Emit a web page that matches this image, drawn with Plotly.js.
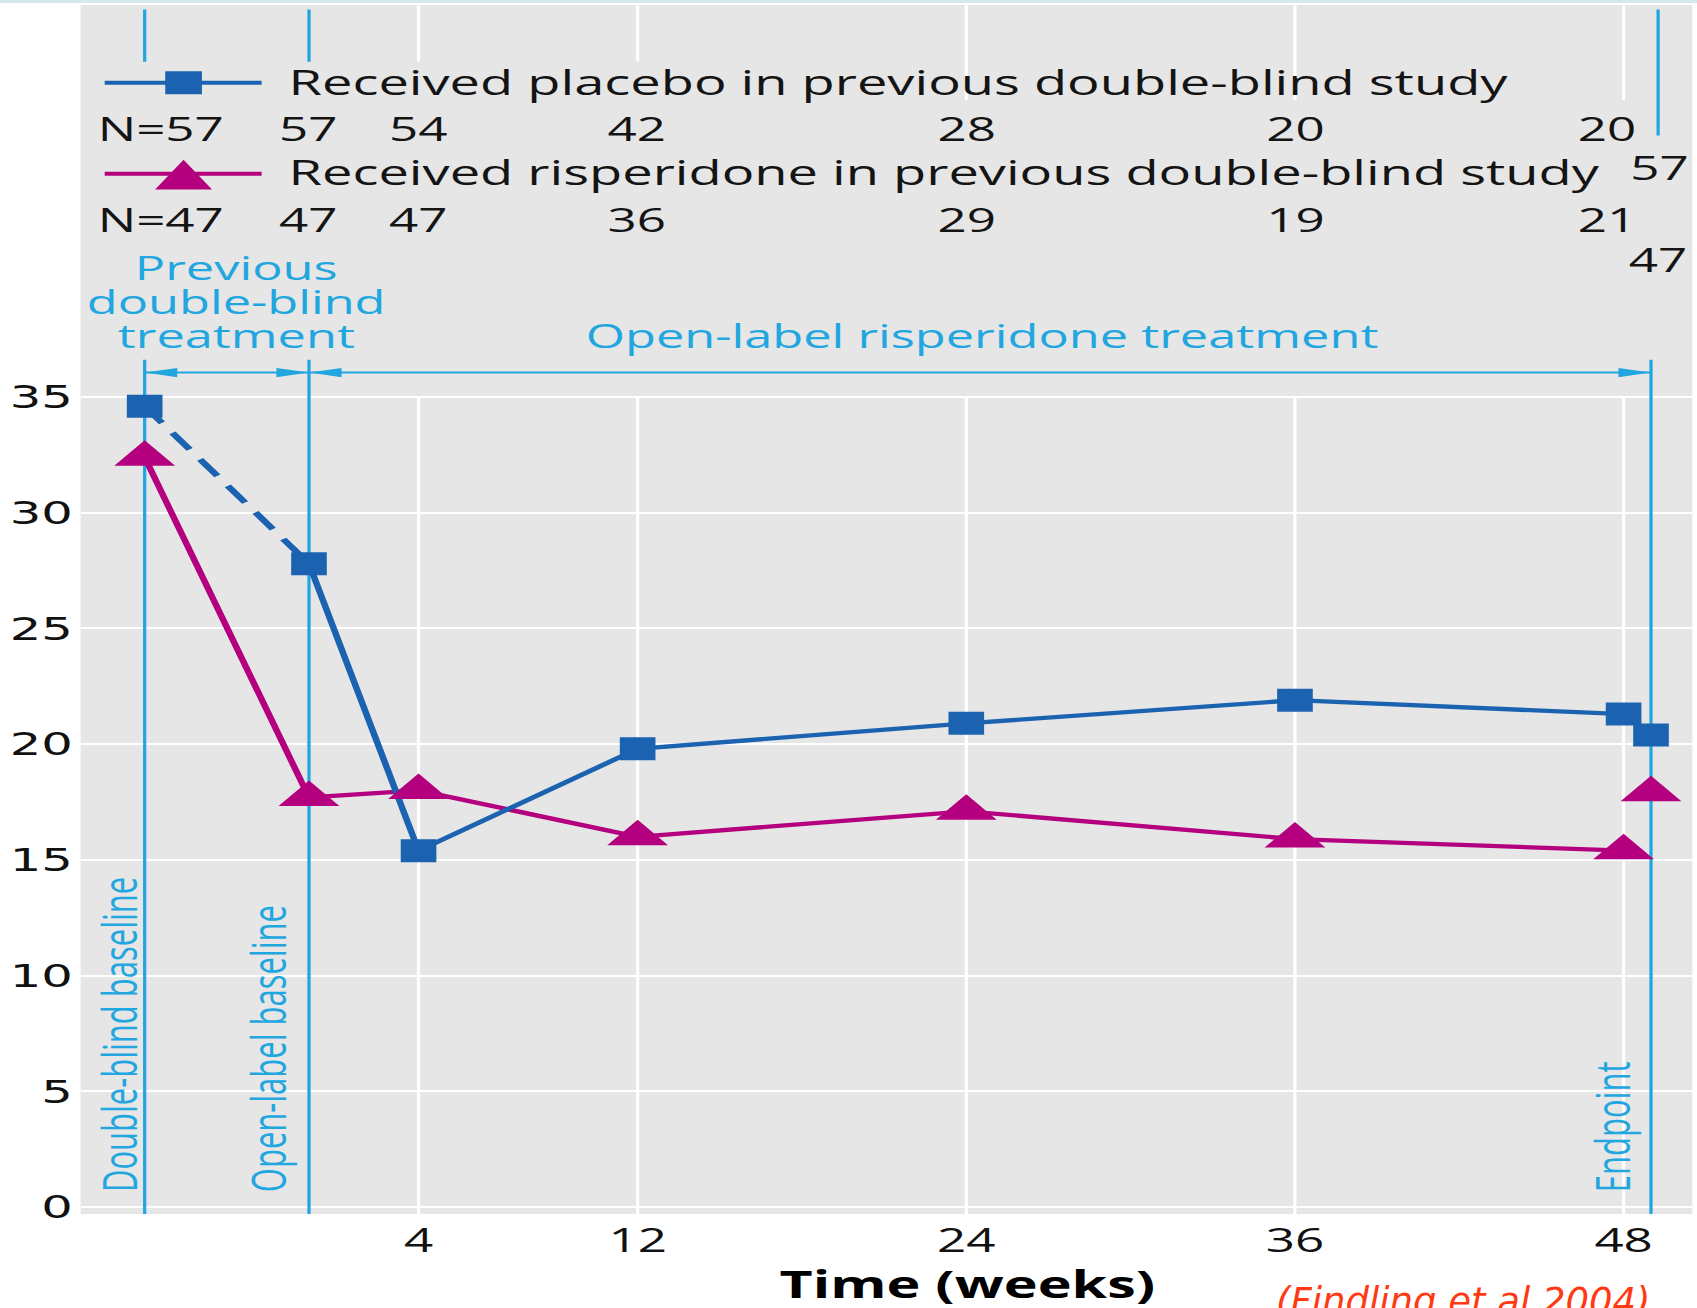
<!DOCTYPE html>
<html><head><meta charset="utf-8">
<script src="https://cdn.plot.ly/plotly-3.0.1.min.js"></script>
<style>
html,body{margin:0;padding:0;background:#fff;overflow:hidden;width:1697px;height:1308px;}
#topband{position:absolute;left:0;top:0;width:1697px;height:3px;background:#d3e9ed;}
#wrap{position:absolute;left:0;top:0;width:1095px;height:1308px;transform-origin:0 0;transform:scaleX(1.549772);}
#cite{position:absolute;left:1276px;top:1283px;font-family:'DejaVu Sans';font-style:italic;font-size:37px;line-height:1;color:#ff3a12;white-space:nowrap;}
</style></head>
<body>
<div id="wrap"><div id="chart"></div></div>
<div id="topband"></div>
<div id="cite">(Findling et al 2004)</div>
<script>
// ---- data ----
const weeks = [-6, 0, 4, 12, 24, 36, 48];
const endpointWeek = 49;
const placeboMean = [34.6, 27.8, 15.4, 19.8, 20.9, 21.9, 21.3];
const placeboEndpoint = 20.4;
const risperidoneMean = [32.4, 17.7, 18.0, 16.0, 17.1, 15.9, 15.4];
const risperidoneEndpoint = 17.9;
const placeboN = [57, 57, 54, 42, 28, 20, 20];
const placeboEndpointN = 57;
const risperidoneN = [47, 47, 47, 36, 29, 19, 21];
const risperidoneEndpointN = 47;
const xTickVals = [4, 12, 24, 36, 48];
const xTickText = ['4', '12', '24', '36', '48'];
const yTickVals = [0, 5, 10, 15, 20, 25, 30, 35];
const yTickText = ['0', '5', '10', '15', '20', '25', '30', '35'];
const seriesNames = ['Received placebo in previous double-blind study',
                     'Received risperidone in previous double-blind study'];
const phaseWeeks = [-6, 0, 49];
const phaseLineLabels = ['Double-blind baseline', 'Open-label baseline', 'Endpoint'];
const previousLabel = ['Previous', 'double-blind', 'treatment'];
const openLabel = 'Open-label risperidone treatment';
const xTitle = 'Time (weeks)';

// ---- style ----
const BLUE = '#1b63b0', MAGENTA = '#b4007e', LIGHT = '#22a6e0', BG = '#e6e6e6', TXT = '#141414';
const Y_TOP = 51.94, Y_BOT = -0.3;
const ARROW_Y = 36.06, PHASE_TOP = 36.61;
const WK = 27.39 / 1.549772; // pre-transform px per week

const traces = [
  {x: weeks, y: risperidoneMean, mode: 'lines', line: {color: MAGENTA, width: 4.3}, hoverinfo: 'skip'},
  {x: weeks.slice(0, 2), y: placeboMean.slice(0, 2), mode: 'lines', line: {color: BLUE, width: 4.8, dash: '20px,12px'}, hoverinfo: 'skip'},
  {x: weeks.slice(1), y: placeboMean.slice(1), mode: 'lines', line: {color: BLUE, width: 4.3}, hoverinfo: 'skip'},
  {x: weeks.concat([endpointWeek]), y: risperidoneMean.concat([risperidoneEndpoint]), mode: 'markers',
   marker: {symbol: 'triangle-up', size: 34, color: MAGENTA, line: {width: 0}}, hoverinfo: 'skip'},
  {x: weeks.concat([endpointWeek]), y: placeboMean.concat([placeboEndpoint]), mode: 'markers',
   marker: {symbol: 'square', size: 23, color: BLUE, line: {width: 0}}, hoverinfo: 'skip'}
];

const shapes = [];
const gridTopEnds = [49.5, 49.5, 47.84, 47.84, 47.84];
xTickVals.forEach((v, i) => {
  shapes.push({type: 'line', layer: 'below', xref: 'x', yref: 'y', x0: v, x1: v, y0: Y_BOT, y1: 35, line: {color: '#fff', width: 2}});
  shapes.push({type: 'line', layer: 'below', xref: 'x', yref: 'y', x0: v, x1: v, y0: Y_TOP, y1: gridTopEnds[i], line: {color: '#fff', width: 2}});
});
// phase reference lines
phaseWeeks.forEach(v => {
  shapes.push({type: 'line', layer: 'between', xref: 'x', yref: 'y', x0: v, x1: v, y0: Y_BOT, y1: PHASE_TOP, line: {color: LIGHT, width: 2.1}});
});
const topSegX = [-6, 0, 49.26], topSegEnd = [49.49, 49.49, 46.3];
topSegX.forEach((v, i) => {
  shapes.push({type: 'line', layer: 'between', xref: 'x', yref: 'y', x0: v, x1: v, y0: 51.75, y1: topSegEnd[i], line: {color: LIGHT, width: 2.1}});
});
// phase arrows
const AL = 1.19, AH = 0.2;
function head(tip, dir) { // dir -1 pointing left, +1 pointing right
  const b = tip - dir * AL;
  return {type: 'path', layer: 'between', xref: 'x', yref: 'y',
    path: `M${tip},${ARROW_Y} L${b},${ARROW_Y + AH} L${b},${ARROW_Y - AH} Z`,
    fillcolor: LIGHT, line: {width: 0}};
}
shapes.push({type: 'line', layer: 'between', xref: 'x', yref: 'y', x0: phaseWeeks[0], x1: phaseWeeks[1], y0: ARROW_Y, y1: ARROW_Y, line: {color: LIGHT, width: 2}});
shapes.push({type: 'line', layer: 'between', xref: 'x', yref: 'y', x0: phaseWeeks[1], x1: phaseWeeks[2], y0: ARROW_Y, y1: ARROW_Y, line: {color: LIGHT, width: 2}});
shapes.push(head(phaseWeeks[0], -1), head(phaseWeeks[1], 1), head(phaseWeeks[1], -1), head(phaseWeeks[2], 1));
// legend glyphs
const LEG_X0 = -7.46, LEG_X1 = -1.73, LEG_XC = -4.58, LEG_Y1 = 48.58, LEG_Y2 = 44.65;
shapes.push({type: 'line', xref: 'x', yref: 'y', x0: LEG_X0, x1: LEG_X1, y0: LEG_Y1, y1: LEG_Y1, line: {color: BLUE, width: 4}});
shapes.push({type: 'rect', xref: 'x', yref: 'y', x0: LEG_XC - 0.67, x1: LEG_XC + 0.67, y0: LEG_Y1 - 0.5, y1: LEG_Y1 + 0.5, fillcolor: BLUE, line: {width: 0}});
shapes.push({type: 'line', xref: 'x', yref: 'y', x0: LEG_X0, x1: LEG_X1, y0: LEG_Y2, y1: LEG_Y2, line: {color: MAGENTA, width: 4}});
shapes.push({type: 'path', xref: 'x', yref: 'y', path: `M${LEG_XC},45.25 L${LEG_XC + 1.04},43.97 L${LEG_XC - 1.04},43.97 Z`, fillcolor: MAGENTA, line: {width: 0}});

const annotations = [];
const A = (o) => annotations.push(Object.assign({xref: 'x', yref: 'y', showarrow: false, borderpad: 0}, o));
const legFont = {family: 'Open Sans', size: 35, color: TXT};
const nFont = {family: 'Open Sans', size: 33, color: TXT};
const blueFont = {family: 'Open Sans', size: 32.6, color: LIGHT};
A({x: -0.82, y: 48.63, xanchor: 'left', yanchor: 'middle', text: seriesNames[0], font: legFont});
A({x: -0.82, y: 44.75, xanchor: 'left', yanchor: 'middle', text: seriesNames[1], font: legFont});
const nShift = [0.57 * WK, 0, 0, 0, 0, 0, -0.6 * WK];
weeks.forEach((w, i) => {
  A({x: w, y: 46.61, xshift: nShift[i], text: (i === 0 ? 'N=' : '') + placeboN[i], font: nFont});
  A({x: w, y: 42.66, xshift: nShift[i], text: (i === 0 ? 'N=' : '') + risperidoneN[i], font: nFont});
});
A({x: endpointWeek, y: 44.90, xshift: 0.3 * WK, text: String(placeboEndpointN), font: nFont});
A({x: endpointWeek, y: 40.93, xshift: 0.27 * WK, text: String(risperidoneEndpointN), font: nFont});
const prevY = [40.58, 39.11, 37.67];
previousLabel.forEach((t, i) => A({x: -2.65, y: prevY[i], text: t, font: blueFont}));
A({x: 24.54, y: 37.67, text: openLabel, font: blueFont});
const rotX = [-6.94, -1.50, 47.56];
phaseLineLabels.forEach((t, i) => A({x: rotX[i], y: 0.70, yshift: -2, xanchor: 'center', yanchor: 'bottom', textangle: -90,
  text: t, font: {family: 'Open Sans', size: 31, color: LIGHT}}));
A({x: 24, yref: 'paper', y: -0.0571, yanchor: 'middle', text: xTitle, font: {family: 'Open Sans', size: 37, weight: 'bold', color: '#000'}});

const layout = {
  width: 1095, height: 1308,
  margin: {l: 52.3, r: 2.6, t: 5, b: 94, pad: 0},
  paper_bgcolor: '#ffffff', plot_bgcolor: BG,
  showlegend: false,
  xaxis: {range: [-8.34, 50.51], tickmode: 'array', tickvals: xTickVals, ticktext: xTickText,
    showgrid: false, zeroline: false, showline: false, ticks: '',
    tickfont: {family: 'Open Sans', size: 33, color: '#111'}, ticklabelstandoff: 4},
  yaxis: {range: [Y_BOT, Y_TOP], tickmode: 'array', tickvals: yTickVals, ticktext: yTickText,
    showgrid: true, gridcolor: '#ffffff', gridwidth: 2, zeroline: false, showline: false, ticks: '',
    tickfont: {family: 'DejaVu Sans', size: 32, color: '#111'}, ticklabelstandoff: 4},
  shapes: shapes,
  annotations: annotations
};
Plotly.newPlot('chart', traces, layout, {displayModeBar: false, staticPlot: true});
</script>
</body></html>
